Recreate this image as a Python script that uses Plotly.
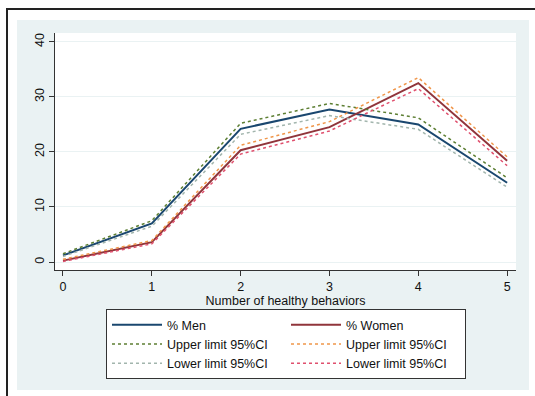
import plotly.graph_objects as go

behaviors = [0, 1, 2, 3, 4, 5]
men = [1.2, 7.0, 24.2, 27.7, 25.0, 14.4]
men_upper = [1.5, 7.5, 25.2, 28.8, 26.2, 15.3]
men_lower = [1.0, 6.5, 23.2, 26.6, 24.1, 13.6]
women = [0.25, 3.6, 20.3, 24.5, 32.5, 18.4]
women_upper = [0.5, 3.9, 21.2, 25.5, 33.5, 19.1]
women_lower = [0.1, 3.3, 19.6, 23.8, 31.5, 17.5]
y_ticks = [0, 10, 20, 30, 40]

W, H = 535, 396
L, R, T, B = 55, 516, 33, 270  # plot area pixels


def px_x(p):
    return (p - L) / (R - L)


def px_y(p):
    return (B - p) / (B - T)


series = [
    ("% Men", men, "#1a476f", "solid", 2),
    ("% Women", women, "#90353b", "solid", 2),
    ("Upper limit 95%CI", men_upper, "#5d7f33", "dot", 1.5),
    ("Upper limit 95%CI", women_upper, "#f0964a", "dot", 1.5),
    ("Lower limit 95%CI", men_lower, "#a2b5ad", "dot", 1.5),
    ("Lower limit 95%CI", women_lower, "#e0506e", "dot", 1.5),
]

fig = go.Figure()
for name, vals, col, dash, w in series:
    fig.add_trace(go.Scatter(
        x=behaviors, y=vals, mode="lines", name=name,
        line=dict(color=col, dash=dash, width=w),
    ))

shapes = [
    # light blue graph region
    dict(type="rect", xref="paper", yref="paper", layer="below",
         x0=px_x(17), x1=px_x(529), y0=px_y(390), y1=px_y(20),
         fillcolor="#eaf2f3", line=dict(width=0)),
    # white plot region
    dict(type="rect", xref="paper", yref="paper", layer="below",
         x0=0, x1=1, y0=0, y1=1,
         fillcolor="white", line=dict(width=0)),
    # outer frame
    dict(type="rect", xref="paper", yref="paper", layer="below",
         x0=px_x(7), x1=px_x(545), y0=px_y(410), y1=px_y(9),
         fillcolor="rgba(0,0,0,0)", line=dict(width=2, color="#222222")),
]

font = "Liberation Sans, Arial, sans-serif"
fig.update_layout(
    width=W, height=H,
    margin=dict(l=L, r=W - R, t=T, b=H - B, autoexpand=False),
    paper_bgcolor="white", plot_bgcolor="white",
    font=dict(family=font, size=12, color="#111111"),
    shapes=shapes,
    showlegend=True,
    legend=dict(
        orientation="h", x=px_x(106), xanchor="left", y=px_y(309), yanchor="top",
        bgcolor="white", bordercolor="#333333", borderwidth=1,
        entrywidth=114, entrywidthmode="pixels",
        font=dict(family=font, size=12.5, color="#111111"),
        tracegroupgap=0, itemwidth=50,
    ),
    xaxis=dict(
        range=[-0.09, 5.1], tickvals=behaviors, ticks="outside", ticklen=5,
        tickcolor="#333333", showline=True, linecolor="#333333", linewidth=1,
        showgrid=False, zeroline=False,
        title=dict(text="Number of healthy behaviors", standoff=2,
                   font=dict(size=12.5)),
        tickfont=dict(size=12.5),
    ),
    yaxis=dict(
        range=[-1.45, 41.6], tickvals=y_ticks, ticks="outside", ticklen=5,
        tickcolor="#333333", showline=True, linecolor="#333333", linewidth=1,
        showgrid=True, gridcolor="#eaf2f3", gridwidth=1, zeroline=False,
        tickangle=-90, tickfont=dict(size=12.5),
    ),
)

fig.write_html(
    "out.html",
    config={"displayModeBar": False},
    post_script="document.body.style.margin='0';document.body.style.overflow='hidden';",
)
